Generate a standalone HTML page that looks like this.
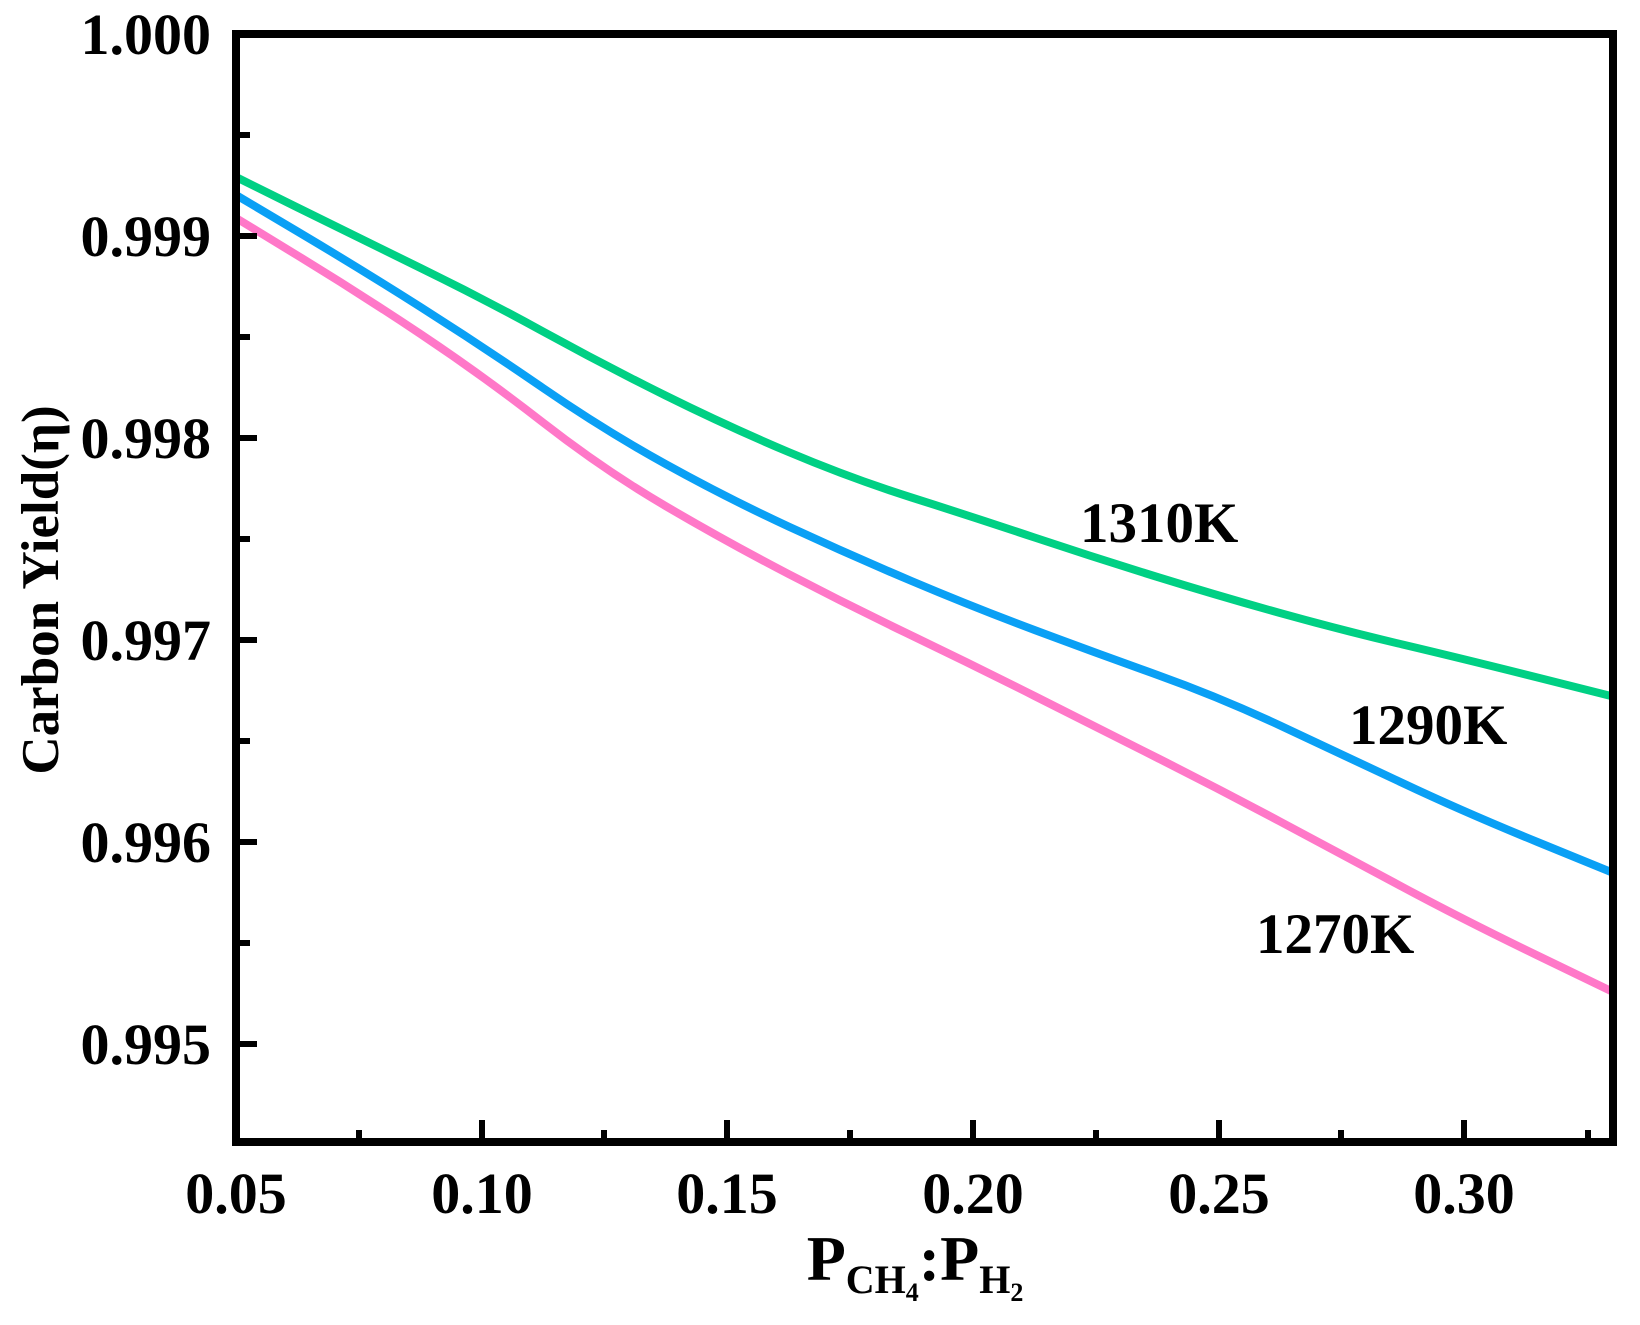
<!DOCTYPE html>
<html><head><style>html,body{margin:0;padding:0;background:#fff}</style></head>
<body>
<svg width="1640" height="1320" xmlns="http://www.w3.org/2000/svg" font-family="Liberation Serif, serif" font-weight="bold">
<rect width="1640" height="1320" fill="#fff"/>
<g fill="none" stroke-width="8" stroke-linejoin="round" stroke-linecap="butt">
<path stroke="#00d084" d="M236,177 L297.5,207.5 Q359,238 420.5,268 Q482,298 543,331.5 Q604,365 665.5,395.5 Q727,426 788.5,452 Q850,478 911.5,497.5 Q973,517 1034.5,537.5 Q1096,558 1157.5,577 Q1219,596 1280,613 Q1341,630 1402.5,644.5 Q1464,659 1537.5,677.5 L1611,696"/>
<path stroke="#0aa0f5" d="M236,195 L297.5,231.5 Q359,268 420.5,307 Q482,346 543,388 Q604,430 665.5,464 Q727,498 788.5,526.5 Q850,555 911.5,581 Q973,607 1034.5,630 Q1096,653 1157.5,675 Q1219,697 1280,725.5 Q1341,754 1402.5,783 Q1464,812 1537.5,842 L1611,872"/>
<path stroke="#ff78c8" d="M236,218 L297.5,255.5 Q359,293 420.5,334 Q482,375 543,422.5 Q604,470 665.5,506 Q727,542 788.5,574 Q850,606 911.5,635.5 Q973,665 1034.5,696 Q1096,727 1157.5,758 Q1219,789 1280,821.5 Q1341,854 1402.5,887 Q1464,920 1537.5,955.5 L1611,991"/>
</g>
<g stroke="#000" stroke-width="6">
<line x1="240" y1="236" x2="257" y2="236"/><line x1="240" y1="438" x2="257" y2="438"/><line x1="240" y1="640" x2="257" y2="640"/><line x1="240" y1="842" x2="257" y2="842"/><line x1="240" y1="1044" x2="257" y2="1044"/>
<line x1="240" y1="135" x2="250" y2="135"/><line x1="240" y1="337" x2="250" y2="337"/><line x1="240" y1="539" x2="250" y2="539"/><line x1="240" y1="741" x2="250" y2="741"/><line x1="240" y1="943" x2="250" y2="943"/>
<line x1="482" y1="1138" x2="482" y2="1120"/><line x1="727" y1="1138" x2="727" y2="1120"/><line x1="973" y1="1138" x2="973" y2="1120"/><line x1="1219" y1="1138" x2="1219" y2="1120"/><line x1="1464" y1="1138" x2="1464" y2="1120"/>
<line x1="359" y1="1138" x2="359" y2="1130"/><line x1="604" y1="1138" x2="604" y2="1130"/><line x1="850" y1="1138" x2="850" y2="1130"/><line x1="1096" y1="1138" x2="1096" y2="1130"/><line x1="1341" y1="1138" x2="1341" y2="1130"/><line x1="1588" y1="1138" x2="1588" y2="1130"/>
</g>
<rect x="236" y="34" width="1377" height="1108" fill="none" stroke="#000" stroke-width="8"/>
<g font-size="58" text-anchor="end">
<text x="211" y="54">1.000</text><text x="211" y="256">0.999</text><text x="211" y="458">0.998</text><text x="211" y="660">0.997</text><text x="211" y="862">0.996</text><text x="211" y="1064">0.995</text>
</g>
<g font-size="58" text-anchor="middle">
<text x="236" y="1213">0.05</text><text x="482" y="1213">0.10</text><text x="727" y="1213">0.15</text><text x="973" y="1213">0.20</text><text x="1219" y="1213">0.25</text><text x="1464" y="1213">0.30</text>
</g>
<text transform="translate(58,590) rotate(-90)" font-size="53" text-anchor="middle">Carbon Yield(η)</text>
<text x="915" y="1280" font-size="64" text-anchor="middle">P<tspan font-size="40" dy="13">CH</tspan><tspan font-size="26" dy="8">4</tspan><tspan dy="-21">:P</tspan><tspan font-size="40" dy="13">H</tspan><tspan font-size="26" dy="8">2</tspan></text>
<g font-size="57">
<text x="1080" y="542">1310K</text><text x="1349" y="744">1290K</text><text x="1256" y="953">1270K</text>
</g>
</svg>
</body></html>
